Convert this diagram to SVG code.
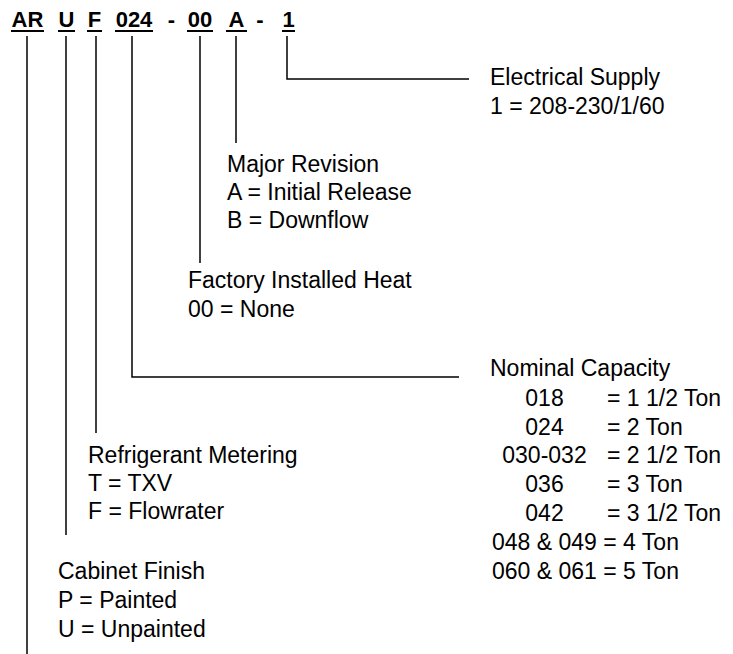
<svg xmlns="http://www.w3.org/2000/svg" width="733" height="654" viewBox="0 0 733 654">
<style>
text{font-family:"Liberation Sans",Arial,sans-serif;fill:#000}
.t{font-size:22px;font-weight:bold;text-anchor:middle}
.l{font-size:23px}
.c{font-size:23px;text-anchor:middle}
.u{stroke:#000;stroke-width:2}
.k{fill:none;stroke:#000;stroke-width:1.5}
</style>
<rect width="733" height="654" fill="#fff"/>
<g id="title">
<text class="t" x="27.5" y="27">AR</text>
<text class="t" x="66.5" y="27">U</text>
<text class="t" x="94.5" y="27">F</text>
<text class="t" x="134" y="27">024</text>
<text class="t" x="171.5" y="27">-</text>
<text class="t" x="200" y="27">00</text>
<text class="t" x="236.5" y="27">A</text>
<text class="t" x="260" y="27">-</text>
<text class="t" x="288.5" y="27">1</text>
<line class="u" x1="11" y1="31" x2="44" y2="31"/>
<line class="u" x1="58" y1="31" x2="75" y2="31"/>
<line class="u" x1="87" y1="31" x2="102" y2="31"/>
<line class="u" x1="115" y1="31" x2="153" y2="31"/>
<line class="u" x1="187" y1="31" x2="213" y2="31"/>
<line class="u" x1="226" y1="31" x2="247" y2="31"/>
<line class="u" x1="282" y1="31" x2="295" y2="31"/>
</g>
<g id="connectors">
<path class="k" d="M27 36V654"/>
<path class="k" d="M66 36V535"/>
<path class="k" d="M96 36V433"/>
<path class="k" d="M132 36V377H459"/>
<path class="k" d="M200 36V263"/>
<path class="k" d="M236 36V143"/>
<path class="k" d="M287 36V79H469"/>
</g>
<g id="electrical-supply">
<text class="l" x="490" y="85">Electrical Supply</text>
<text class="l" x="490" y="114">1 = 208-230/1/60</text>
</g>
<g id="major-revision">
<text class="l" x="227" y="172">Major Revision</text>
<text class="l" x="227" y="200">A = Initial Release</text>
<text class="l" x="227" y="228">B = Downflow</text>
</g>
<g id="factory-heat">
<text class="l" x="188" y="288">Factory Installed Heat</text>
<text class="l" x="188" y="317">00 = None</text>
</g>
<g id="nominal-capacity">
<text class="l" x="490" y="376">Nominal Capacity</text>
<text class="c" x="544.5" y="406">018</text><text class="l" x="607" y="406">= 1 1/2 Ton</text>
<text class="c" x="544.5" y="435">024</text><text class="l" x="607" y="435">= 2 Ton</text>
<text class="c" x="544.5" y="463">030-032</text><text class="l" x="607" y="463">= 2 1/2 Ton</text>
<text class="c" x="544.5" y="492">036</text><text class="l" x="607" y="492">= 3 Ton</text>
<text class="c" x="544.5" y="521">042</text><text class="l" x="607" y="521">= 3 1/2 Ton</text>
<text class="l" x="492" y="550">048 &amp; 049 = 4 Ton</text>
<text class="l" x="492" y="579">060 &amp; 061 = 5 Ton</text>
</g>
<g id="refrigerant-metering">
<text class="l" x="88" y="463">Refrigerant Metering</text>
<text class="l" x="88" y="491">T = TXV</text>
<text class="l" x="88" y="519">F = Flowrater</text>
</g>
<g id="cabinet-finish">
<text class="l" x="58" y="579">Cabinet Finish</text>
<text class="l" x="58" y="608">P = Painted</text>
<text class="l" x="58" y="637">U = Unpainted</text>
</g>
</svg>
